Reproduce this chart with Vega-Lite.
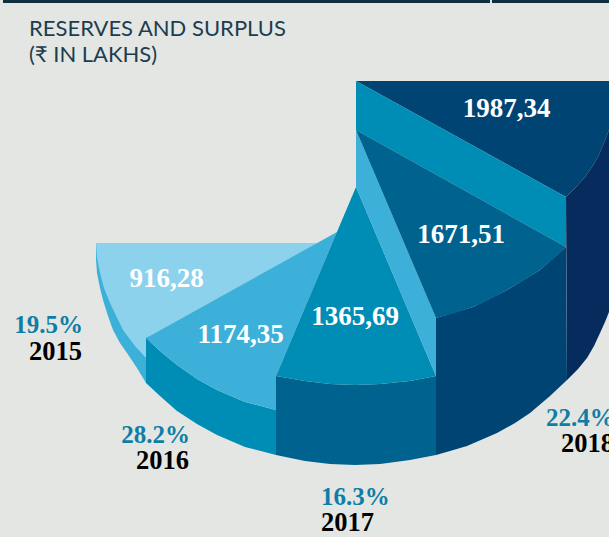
{"$schema":"https://vega.github.io/schema/vega-lite/v6.json","width":609,"height":537,"padding":0,"autosize":{"type":"none"},"background":"#e4e6e3","config":{"view":{"stroke":null}},
"datasets":{"shapes":[
{"part":"bar a","seq":1,"x":3,"y":0},{"part":"bar a","seq":2,"x":490,"y":0},{"part":"bar a","seq":3,"x":490,"y":3},{"part":"bar a","seq":4,"x":3,"y":3},
{"part":"bar b","seq":1,"x":492,"y":0},{"part":"bar b","seq":2,"x":609,"y":0},{"part":"bar b","seq":3,"x":609,"y":3},{"part":"bar b","seq":4,"x":492,"y":3},
{"part":"2015 side","seq":1,"x":96,"y":243},{"part":"2015 side","seq":2,"x":96,"y":260},{"part":"2015 side","seq":3,"x":97,"y":273},{"part":"2015 side","seq":4,"x":100,"y":288},{"part":"2015 side","seq":5,"x":103,"y":300},{"part":"2015 side","seq":6,"x":108,"y":316},{"part":"2015 side","seq":7,"x":113,"y":330},{"part":"2015 side","seq":8,"x":120,"y":343},{"part":"2015 side","seq":9,"x":127,"y":353},{"part":"2015 side","seq":10,"x":137,"y":368},{"part":"2015 side","seq":11,"x":146,"y":383},{"part":"2015 side","seq":12,"x":150,"y":340},{"part":"2015 side","seq":13,"x":110,"y":243},
{"part":"2015 top","seq":1,"x":96,"y":243},{"part":"2015 top","seq":2,"x":318,"y":243},{"part":"2015 top","seq":3,"x":146,"y":338},{"part":"2015 top","seq":4,"x":146,"y":358},{"part":"2015 top","seq":5,"x":135,"y":346},{"part":"2015 top","seq":6,"x":123,"y":330},{"part":"2015 top","seq":7,"x":110,"y":303},{"part":"2015 top","seq":8,"x":104,"y":288},{"part":"2015 top","seq":9,"x":100,"y":273},{"part":"2015 top","seq":10,"x":97,"y":258},
{"part":"2016 side","seq":1,"x":146,"y":338},{"part":"2016 side","seq":2,"x":160,"y":351},{"part":"2016 side","seq":3,"x":177,"y":365},{"part":"2016 side","seq":4,"x":197,"y":379},{"part":"2016 side","seq":5,"x":217,"y":390},{"part":"2016 side","seq":6,"x":245,"y":402},{"part":"2016 side","seq":7,"x":276,"y":410},{"part":"2016 side","seq":8,"x":276,"y":455},{"part":"2016 side","seq":9,"x":245,"y":447},{"part":"2016 side","seq":10,"x":217,"y":435},{"part":"2016 side","seq":11,"x":197,"y":424},{"part":"2016 side","seq":12,"x":177,"y":411},{"part":"2016 side","seq":13,"x":160,"y":396},{"part":"2016 side","seq":14,"x":146,"y":383},
{"part":"2016 top","seq":1,"x":146,"y":338},{"part":"2016 top","seq":2,"x":337,"y":232},{"part":"2016 top","seq":3,"x":276,"y":376},{"part":"2016 top","seq":4,"x":276,"y":410},{"part":"2016 top","seq":5,"x":245,"y":402},{"part":"2016 top","seq":6,"x":217,"y":390},{"part":"2016 top","seq":7,"x":197,"y":379},{"part":"2016 top","seq":8,"x":177,"y":365},{"part":"2016 top","seq":9,"x":160,"y":351},
{"part":"2017 side","seq":1,"x":276,"y":376},{"part":"2017 side","seq":2,"x":305,"y":381},{"part":"2017 side","seq":3,"x":330,"y":384},{"part":"2017 side","seq":4,"x":355,"y":385},{"part":"2017 side","seq":5,"x":380,"y":384},{"part":"2017 side","seq":6,"x":410,"y":381},{"part":"2017 side","seq":7,"x":436,"y":376},{"part":"2017 side","seq":8,"x":436,"y":455},{"part":"2017 side","seq":9,"x":410,"y":460},{"part":"2017 side","seq":10,"x":380,"y":464},{"part":"2017 side","seq":11,"x":355,"y":465},{"part":"2017 side","seq":12,"x":330,"y":464},{"part":"2017 side","seq":13,"x":305,"y":461},{"part":"2017 side","seq":14,"x":276,"y":455},
{"part":"2017 top","seq":1,"x":356,"y":187},{"part":"2017 top","seq":2,"x":436,"y":376},{"part":"2017 top","seq":3,"x":410,"y":381},{"part":"2017 top","seq":4,"x":380,"y":384},{"part":"2017 top","seq":5,"x":355,"y":385},{"part":"2017 top","seq":6,"x":330,"y":384},{"part":"2017 top","seq":7,"x":305,"y":381},{"part":"2017 top","seq":8,"x":276,"y":376},
{"part":"wall","seq":1,"x":356,"y":130},{"part":"wall","seq":2,"x":356,"y":187},{"part":"wall","seq":3,"x":436,"y":376},{"part":"wall","seq":4,"x":436,"y":318},
{"part":"2018 top","seq":1,"x":356,"y":81},{"part":"2018 top","seq":2,"x":609,"y":81},{"part":"2018 top","seq":3,"x":609,"y":130},{"part":"2018 top","seq":4,"x":603,"y":145},{"part":"2018 top","seq":5,"x":598,"y":157},{"part":"2018 top","seq":6,"x":592,"y":167},{"part":"2018 top","seq":7,"x":585,"y":177},{"part":"2018 top","seq":8,"x":576,"y":187},{"part":"2018 top","seq":9,"x":566,"y":197},
{"part":"band","seq":1,"x":356,"y":81},{"part":"band","seq":2,"x":566,"y":197},{"part":"band","seq":3,"x":566,"y":247},{"part":"band","seq":4,"x":356,"y":130},
{"part":"cut side","seq":1,"x":436,"y":318},{"part":"cut side","seq":2,"x":473,"y":307},{"part":"cut side","seq":3,"x":507,"y":290},{"part":"cut side","seq":4,"x":540,"y":270},{"part":"cut side","seq":5,"x":566,"y":247},{"part":"cut side","seq":6,"x":567,"y":380},{"part":"cut side","seq":7,"x":550,"y":396},{"part":"cut side","seq":8,"x":530,"y":413},{"part":"cut side","seq":9,"x":515,"y":423},{"part":"cut side","seq":10,"x":497,"y":433},{"part":"cut side","seq":11,"x":467,"y":446},{"part":"cut side","seq":12,"x":450,"y":451},{"part":"cut side","seq":13,"x":436,"y":455},
{"part":"cut top","seq":1,"x":356,"y":130},{"part":"cut top","seq":2,"x":566,"y":247},{"part":"cut top","seq":3,"x":553,"y":259},{"part":"cut top","seq":4,"x":540,"y":270},{"part":"cut top","seq":5,"x":524,"y":280},{"part":"cut top","seq":6,"x":507,"y":290},{"part":"cut top","seq":7,"x":490,"y":299},{"part":"cut top","seq":8,"x":473,"y":307},{"part":"cut top","seq":9,"x":455,"y":313},{"part":"cut top","seq":10,"x":436,"y":318},
{"part":"2018 side","seq":1,"x":566,"y":197},{"part":"2018 side","seq":2,"x":576,"y":187},{"part":"2018 side","seq":3,"x":585,"y":177},{"part":"2018 side","seq":4,"x":592,"y":167},{"part":"2018 side","seq":5,"x":598,"y":157},{"part":"2018 side","seq":6,"x":603,"y":145},{"part":"2018 side","seq":7,"x":609,"y":130},{"part":"2018 side","seq":8,"x":609,"y":312},{"part":"2018 side","seq":9,"x":605,"y":322},{"part":"2018 side","seq":10,"x":600,"y":333},{"part":"2018 side","seq":11,"x":594,"y":346},{"part":"2018 side","seq":12,"x":587,"y":358},{"part":"2018 side","seq":13,"x":578,"y":369},{"part":"2018 side","seq":14,"x":567,"y":380}
],
"values":[{"label":"916,28","x":166.5,"y":287},{"label":"1174,35","x":240.5,"y":343},{"label":"1365,69","x":355,"y":325},{"label":"1671,51","x":461,"y":243},{"label":"1987,34","x":506.5,"y":117}],
"pct":[{"label":"19.5%","x":83,"y":333},{"label":"28.2%","x":190,"y":443}],
"pctl":[{"label":"16.3%","x":321,"y":505},{"label":"22.4%","x":546,"y":426}],
"yr":[{"label":"2015","x":82,"y":360},{"label":"2016","x":189,"y":469}],
"yrl":[{"label":"2017","x":321,"y":531},{"label":"2018","x":561,"y":452}],
"title":[{"label":"RESERVES AND SURPLUS","x":29,"y":36},{"label":"(₹ IN LAKHS)","x":29,"y":62}]},
"layer":[
{"data":{"name":"shapes"},"mark":{"type":"line","filled":true,"interpolate":"linear","clip":true,"strokeWidth":0},
"encoding":{"x":{"field":"x","type":"quantitative","scale":{"domain":[0,609],"nice":false,"zero":false},"axis":null},"y":{"field":"y","type":"quantitative","scale":{"domain":[537,0],"nice":false,"zero":false},"axis":null},"order":{"field":"seq","type":"quantitative"},
"color":{"field":"part","type":"nominal","legend":null,"scale":{"domain":["bar a","bar b","2015 side","2015 top","2016 side","2016 top","2017 side","2017 top","wall","2018 top","band","cut side","cut top","2018 side"],"range":["#0d2f3e","#0d2f3e","#3db0d9","#8dd2ec","#008db5","#3db0d9","#00628f","#008db5","#3db0d9","#004474","#008db5","#004474","#00628f","#062c5e"]}}}},
{"data":{"name":"values"},"mark":{"type":"text","font":"Liberation Serif","fontWeight":"bold","fontSize":27,"fill":"#ffffff","align":"center","baseline":"alphabetic"},"encoding":{"x":{"field":"x","type":"quantitative"},"y":{"field":"y","type":"quantitative"},"text":{"field":"label"}}},
{"data":{"name":"pct"},"mark":{"type":"text","font":"Liberation Serif","fontWeight":"bold","fontSize":25,"fill":"#0e7ea6","align":"right","baseline":"alphabetic"},"encoding":{"x":{"field":"x","type":"quantitative"},"y":{"field":"y","type":"quantitative"},"text":{"field":"label"}}},
{"data":{"name":"pctl"},"mark":{"type":"text","font":"Liberation Serif","fontWeight":"bold","fontSize":25,"fill":"#0e7ea6","align":"left","baseline":"alphabetic"},"encoding":{"x":{"field":"x","type":"quantitative"},"y":{"field":"y","type":"quantitative"},"text":{"field":"label"}}},
{"data":{"name":"yr"},"mark":{"type":"text","font":"Liberation Serif","fontWeight":"bold","fontSize":26.5,"fill":"#000000","align":"right","baseline":"alphabetic"},"encoding":{"x":{"field":"x","type":"quantitative"},"y":{"field":"y","type":"quantitative"},"text":{"field":"label"}}},
{"data":{"name":"yrl"},"mark":{"type":"text","font":"Liberation Serif","fontWeight":"bold","fontSize":26.5,"fill":"#000000","align":"left","baseline":"alphabetic"},"encoding":{"x":{"field":"x","type":"quantitative"},"y":{"field":"y","type":"quantitative"},"text":{"field":"label"}}},
{"data":{"name":"title"},"mark":{"type":"text","font":"Lato","fontSize":22,"fill":"#1c3d4f","align":"left","baseline":"alphabetic"},"encoding":{"x":{"field":"x","type":"quantitative"},"y":{"field":"y","type":"quantitative"},"text":{"field":"label"}}}
]}
